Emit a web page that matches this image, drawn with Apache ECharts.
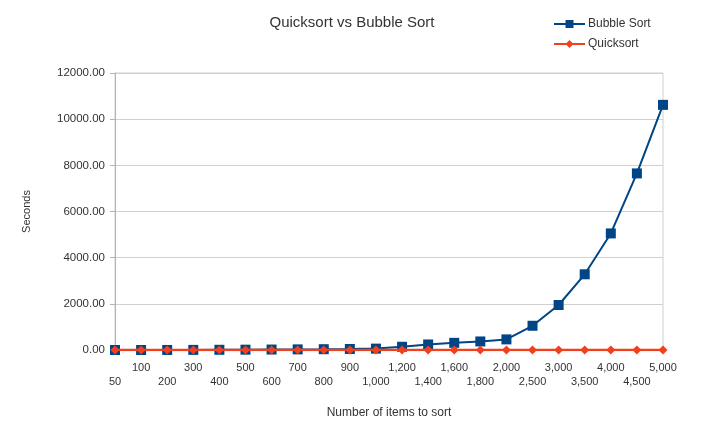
<!DOCTYPE html>
<html>
<head>
<meta charset="utf-8">
<script src="https://cdn.jsdelivr.net/npm/echarts@6/dist/echarts.min.js"></script>
<style>html,body{margin:0;padding:0;background:#fff;}#c{width:705px;height:428px;}</style>
</head>
<body>
<div id="c"></div>
<script>
const categories = ["50","100","200","300","400","500","600","700","800","900","1,000","1,200","1,400","1,600","1,800","2,000","2,500","3,000","3,500","4,000","4,500","5,000"];
const bubbleSort = [0.1,0.5,2,5,9,14,20,27,35,45,60,140,240,310,370,460,1050,1950,3280,5050,7650,10620];
const quickSort = [0.01,0.01,0.02,0.03,0.04,0.05,0.06,0.07,0.08,0.09,0.1,0.12,0.14,0.16,0.18,0.2,0.25,0.3,0.35,0.4,0.45,0.5];
const yTicks = {min:0, max:12000, interval:2000};

const FONT = '"Liberation Sans", Arial, sans-serif';
const chart = echarts.init(document.getElementById('c'), null, {renderer:'canvas'});
chart.setOption({
  animation:false,
  backgroundColor:'#fff',
  textStyle:{fontFamily:FONT},
  title:{
    text:'Quicksort vs Bubble Sort',
    left:347, top:10, textAlign:'center',
    textStyle:{fontFamily:FONT, fontSize:15, fontWeight:'normal', color:'#333'}
  },
  legend:{
    orient:'vertical', left:548, top:13,
    itemWidth:31, itemHeight:10, itemGap:8,
    textStyle:{fontFamily:FONT, fontSize:12, color:'#333', padding:[0,0,0,-2]},
    data:['Bubble Sort','Quicksort']
  },
  grid:{left:115, right:42, top:73, bottom:78, show:true, borderColor:'#d0d0d0', borderWidth:1},
  xAxis:{
    type:'category', data:categories, boundaryGap:false,
    name:'Number of items to sort', nameLocation:'middle', nameGap:57,
    nameTextStyle:{fontFamily:FONT, fontSize:12, color:'#333'},
    axisLine:{show:true, lineStyle:{color:'#b3b3b3'}},
    axisTick:{show:false},
    axisLabel:{
      interval:0, hideOverlap:false, margin:11, fontSize:11, lineHeight:14, color:'#333', fontFamily:FONT,
      formatter:function(v, i){ return i % 2 === 0 ? '\n' + v : v; }
    },
    splitLine:{show:false}
  },
  yAxis:{
    type:'value', min:yTicks.min, max:yTicks.max, interval:yTicks.interval,
    name:'Seconds', nameLocation:'middle', nameGap:83, nameRotate:90,
    nameTextStyle:{fontFamily:FONT, fontSize:11, color:'#333'},
    axisLine:{show:true, lineStyle:{color:'#b3b3b3'}},
    axisTick:{show:true, length:5, lineStyle:{color:'#b3b3b3'}},
    axisLabel:{margin:10, fontSize:11.5, color:'#333', fontFamily:FONT, formatter:function(v){return v.toFixed(2);}},
    splitLine:{show:true, lineStyle:{color:'#d0d0d0', width:1}}
  },
  series:[
    {name:'Bubble Sort', type:'line', data:bubbleSort, color:'#004586',
     symbol:'rect', symbolSize:10, showAllSymbol:true,
     lineStyle:{width:2, color:'#004586'}, itemStyle:{color:'#004586'}, z:2},
    {name:'Quicksort', type:'line', data:quickSort, color:'#f0401e',
     symbol:'diamond', symbolSize:9, showAllSymbol:true,
     lineStyle:{width:2.5, color:'#f0401e'}, itemStyle:{color:'#f0401e'}, z:3}
  ]
});
</script>
</body>
</html>
